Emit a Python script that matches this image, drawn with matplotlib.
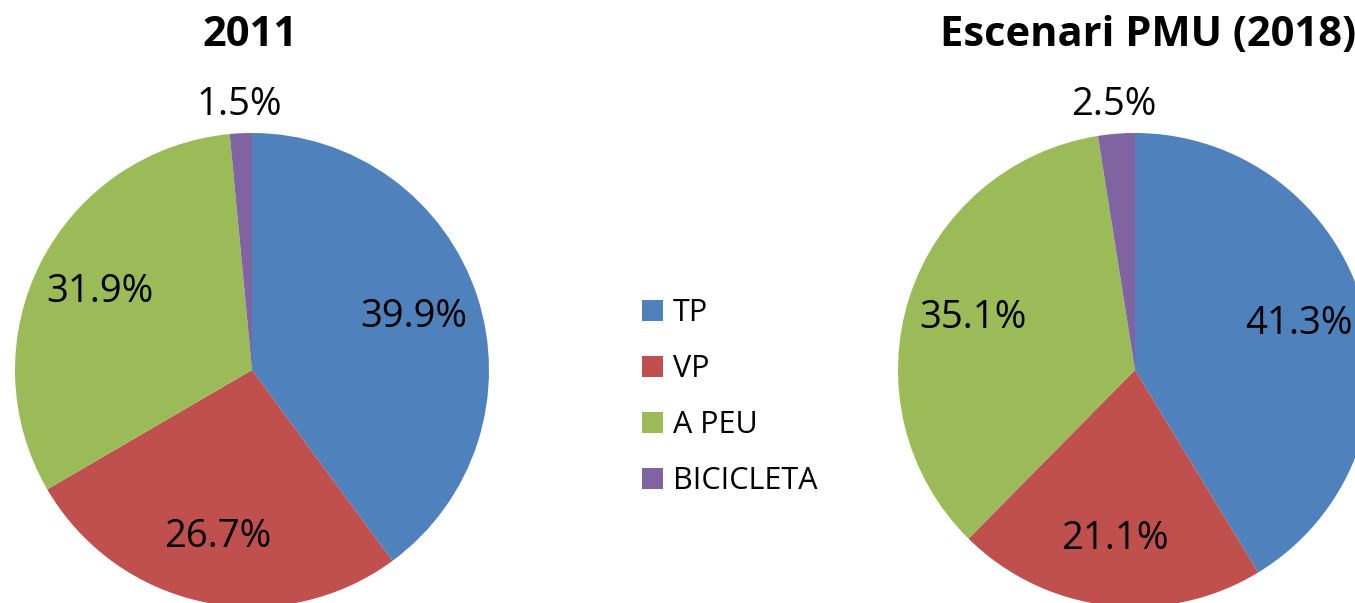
import numpy as np
import matplotlib
matplotlib.use("Agg")
import matplotlib.pyplot as plt
from matplotlib.patches import Patch

CATEGORIES = ["TP", "VP", "A PEU", "BICICLETA"]
SHARE_2011 = [39.9, 26.7, 31.9, 1.5]
SHARE_2018 = [41.3, 21.1, 35.1, 2.5]
TITLES = ["2011", "Escenari PMU (2018)"]
COLORS = ["#4F81BD", "#C0504D", "#9BBB59", "#8064A2"]

plt.rcParams["font.family"] = ["Open Sans", "DejaVu Sans"]

W, H = 1355, 603
fig = plt.figure(figsize=(W / 100, H / 100), dpi=100)
ax = fig.add_axes([0, 0, 1, 1])

# pixel layout: pie centres (x, y from top), radius
layout = [(252, 370), (1135, 370)]
radius = 237
title_x = [250, 1148]

for (cx, cy), tx, title, vals in zip(layout, title_x, TITLES, [SHARE_2011, SHARE_2018]):
    centre = (cx, H - cy)
    wedges, _ = ax.pie(vals, colors=COLORS, startangle=90, counterclock=False,
                       center=centre, radius=radius, frame=True)
    for w, v in zip(wedges, vals):
        mid = np.deg2rad((w.theta1 + w.theta2) / 2)
        # small slices get their label outside the pie
        dist = 1.12 if v < 5 else 0.72
        ax.text(centre[0] + dist * radius * np.cos(mid),
                centre[1] + dist * radius * np.sin(mid),
                f"{v:.1f}%", ha="center", va="center", fontsize=27.5)
    ax.text(tx, H - 35, title, ha="center", va="center", fontsize=30, fontweight="bold")

ax.set_xlim(0, W)
ax.set_ylim(0, H)
ax.set_aspect("equal")
ax.axis("off")

handles = [Patch(facecolor=c, edgecolor="none") for c in COLORS]
fig.legend(handles, CATEGORIES, loc="center left", bbox_to_anchor=(642 / W, 1 - 397 / H),
           frameon=False, fontsize=22, handlelength=0.69, handleheight=0.69,
           handletextpad=0.33, labelspacing=0.85, borderpad=0, borderaxespad=0)

fig.savefig("out.png", dpi=100)
